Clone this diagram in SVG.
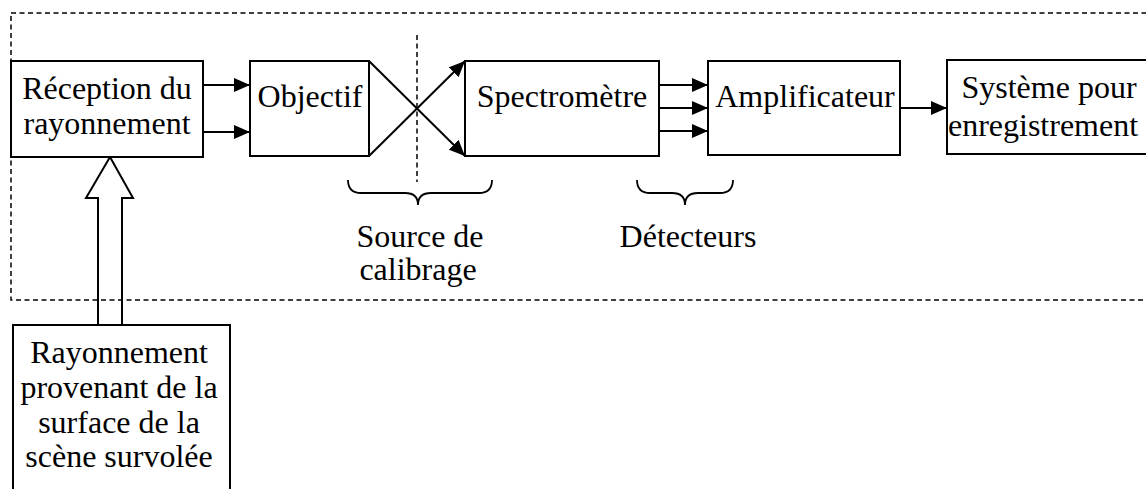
<svg xmlns="http://www.w3.org/2000/svg" width="1146" height="489" viewBox="0 0 1146 489">
  <style>
    .box { fill: #fff; stroke: #000; stroke-width: 2; }
    .txt { font-family: "Liberation Serif", "Times New Roman", serif; font-size: 32px; fill: #000; text-anchor: middle; }
    .wire { fill: none; stroke: #000; stroke-width: 2; }
    .dash { fill: none; stroke: #000; stroke-width: 1.5; stroke-dasharray: 5 3.5; }
    .brace { fill: none; stroke: #000; stroke-width: 1.8; }
  </style>
  <defs>
    <marker id="arrow" viewBox="0 0 16 14" refX="16" refY="7" markerWidth="16" markerHeight="14" markerUnits="userSpaceOnUse" orient="auto">
      <path d="M0,0 L16,7 L0,14 Z" fill="#000"/>
    </marker>
  </defs>

  <rect width="1146" height="489" fill="#fff"/>

  <!-- instrument boundary -->
  <rect class="dash" x="11" y="13" width="1145" height="287"/>

  <g id="connectors">
    <!-- reception -> objective -->
    <line class="wire" x1="203" y1="85" x2="250" y2="85" marker-end="url(#arrow)"/>
    <line class="wire" x1="203" y1="132" x2="250" y2="132" marker-end="url(#arrow)"/>
    <!-- crossing beams through the focal plane -->
    <line class="wire" x1="369" y1="61" x2="465" y2="156" marker-end="url(#arrow)"/>
    <line class="wire" x1="369" y1="156" x2="465" y2="61" marker-end="url(#arrow)"/>
    <!-- spectrometer -> amplifier (detectors) -->
    <line class="wire" x1="659" y1="85" x2="708" y2="85" marker-end="url(#arrow)"/>
    <line class="wire" x1="659" y1="108" x2="708" y2="108" marker-end="url(#arrow)"/>
    <line class="wire" x1="659" y1="131" x2="708" y2="131" marker-end="url(#arrow)"/>
    <!-- amplifier -> recorder -->
    <line class="wire" x1="900" y1="108" x2="947" y2="108" marker-end="url(#arrow)"/>
    <!-- hollow arrow: incoming radiation -->
    <path class="wire" fill="#fff" d="M98,325 L98,198 L86,198 L110,157 L133,198 L122,198 L122,325"/>
  </g>

  <!-- focal plane marker -->
  <line class="dash" x1="417" y1="35" x2="417" y2="182"/>

  <g id="reception">
    <rect class="box" x="11" y="61" width="192" height="96"/>
    <text class="txt" x="107" y="99">Réception du</text>
    <text class="txt" x="107" y="134">rayonnement</text>
  </g>

  <g id="objectif">
    <rect class="box" x="250" y="61" width="119" height="95"/>
    <text class="txt" x="310" y="107">Objectif</text>
  </g>

  <g id="spectrometre">
    <rect class="box" x="465" y="61" width="194" height="95"/>
    <text class="txt" x="562" y="107">Spectromètre</text>
  </g>

  <g id="amplificateur">
    <rect class="box" x="708" y="61" width="192" height="94"/>
    <text class="txt" x="805" y="107">Amplificateur</text>
  </g>

  <g id="enregistrement">
    <rect class="box" x="947" y="60" width="210" height="94"/>
    <text class="txt" x="1049" y="98">Système pour</text>
    <text class="txt" x="1043" y="136">enregistrement</text>
  </g>

  <g id="source-calibrage">
    <path class="brace" d="M348,180 Q348,193 361,193 L405,193 Q418,193 418,205 Q418,193 431,193 L479,193 Q492,193 492,180"/>
    <text class="txt" x="420" y="247">Source de</text>
    <text class="txt" x="418" y="280">calibrage</text>
  </g>

  <g id="detecteurs">
    <path class="brace" d="M637,180 Q637,193 650,193 L672,193 Q685,193 685,205 Q685,193 698,193 L720,193 Q733,193 733,180"/>
    <text class="txt" x="688" y="247">Détecteurs</text>
  </g>

  <g id="rayonnement-scene">
    <rect class="box" x="13" y="325" width="217" height="180"/>
    <text class="txt" x="119" y="363">Rayonnement</text>
    <text class="txt" x="119" y="398">provenant de la</text>
    <text class="txt" x="119" y="433">surface de la</text>
    <text class="txt" x="119" y="467">scène survolée</text>
  </g>
</svg>
